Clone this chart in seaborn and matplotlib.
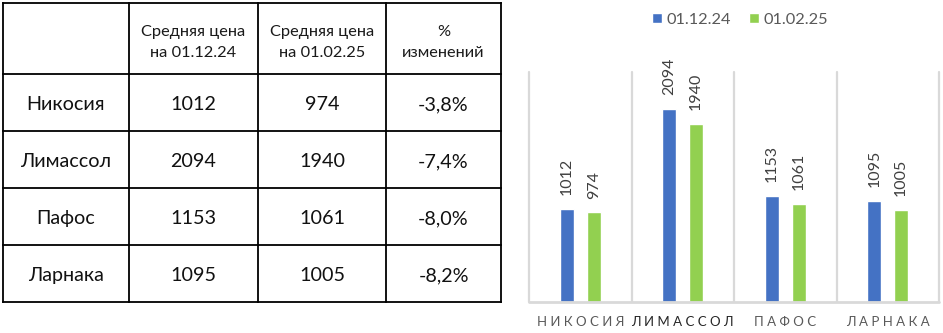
import matplotlib
matplotlib.use('Agg')
import matplotlib.pyplot as plt
import seaborn as sns
import pandas as pd

cities = ['Никосия', 'Лимассол', 'Пафос', 'Ларнака']
price_dec = [1012, 2094, 1153, 1095]
price_feb = [974, 1940, 1061, 1005]
pct_change = [-3.8, -7.4, -8.0, -8.2]
series = ['01.12.24', '01.02.25']
headers = ['Средняя цена\nна 01.12.24', 'Средняя цена\nна 01.02.25', '%\nизменений']

sns.set_theme(style='white')
plt.rcParams['font.family'] = ['Lato', 'DejaVu Sans']

W, H = 943, 333
fig = plt.figure(figsize=(W / 100, H / 100), dpi=100)
fig.patch.set_facecolor('white')


def fx(px):
    return px / W


def fy(py):
    return 1 - py / H


# ---------------- table ----------------
tab = fig.add_axes([0, 0, 1, 1])
tab.set_axis_off()
tab.set_xlim(0, W)
tab.set_ylim(H, 0)
xs = [3, 129, 258, 386, 501]
ys = [3, 74, 131, 188, 245, 302]
lc = tab.vlines(xs, ys[0], ys[-1], color='black', lw=1.3)
lc.set_capstyle('projecting')
lc = tab.hlines(ys, xs[0], xs[-1], color='black', lw=1.3)
lc.set_capstyle('projecting')

colc = [(xs[i] + xs[i + 1]) / 2 for i in range(4)]
rowc = [(ys[i] + ys[i + 1]) / 2 for i in range(5)]
for j, h in enumerate(headers):
    tab.text(colc[j + 1], rowc[0] + 4, h, ha='center', va='center',
             fontsize=11.8, color='#1a1a1a', linespacing=1.6)
for i, c in enumerate(cities):
    y = rowc[i + 1] + 2
    row = [c, str(price_dec[i]), str(price_feb[i]),
           f"{pct_change[i]:.1f}%".replace('.', ',')]
    for j, t in enumerate(row):
        tab.text(colc[j], y, t, ha='center', va='center',
                 fontsize=14.2, color='#111111')

# ---------------- bar chart ----------------
ax = fig.add_axes([fx(529), fy(302), fx(939) - fx(529), (302 - 72) / H])
df = pd.DataFrame({
    'city': cities * 2,
    'series': [series[0]] * 4 + [series[1]] * 4,
    'price': price_dec + price_feb,
})
colors = ['#4472C4', '#92D050']
sns.barplot(data=df, x='city', y='price', hue='series', palette=colors,
            saturation=1, width=0.524, gap=0.48, errorbar=None, ax=ax)

ax.set_xlim(-0.5, 3.5)
ax.set_ylim(0, 2500)
for s in ax.spines.values():
    s.set_visible(False)
ax.set_yticks([])
ax.set_xlabel('')
ax.set_ylabel('')
for x in [-0.5, 0.5, 1.5, 2.5, 3.5]:
    ax.axvline(x, color='#d9d9d9', lw=1.6, zorder=0, clip_on=False)
ax.axhline(0, color='#d9d9d9', lw=2, zorder=3, clip_on=False)

for cont in ax.containers:
    ax.bar_label(cont, fmt='%d', rotation=90, padding=10, fontsize=11.5,
                 color='#404040')

ax.set_xticks(range(len(cities)))
ax.set_xticklabels([' '.join(c.upper()) for c in cities], fontsize=9.5)
for k, lab in enumerate(ax.get_xticklabels()):
    lab.set_color('#262626' if k == 1 else '#595959')
ax.tick_params(axis='x', length=0, pad=10)

leg = ax.get_legend()
handles = leg.legend_handles
leg.remove()
fig.legend(handles, series, loc='center', bbox_to_anchor=(fx(740), fy(20)),
           ncol=2, frameon=False, fontsize=11.8, labelcolor='#595959',
           handlelength=0.6, handleheight=0.6, handletextpad=0.3,
           columnspacing=1.1, borderaxespad=0)

fig.savefig('out.png', dpi=100, facecolor='white')
